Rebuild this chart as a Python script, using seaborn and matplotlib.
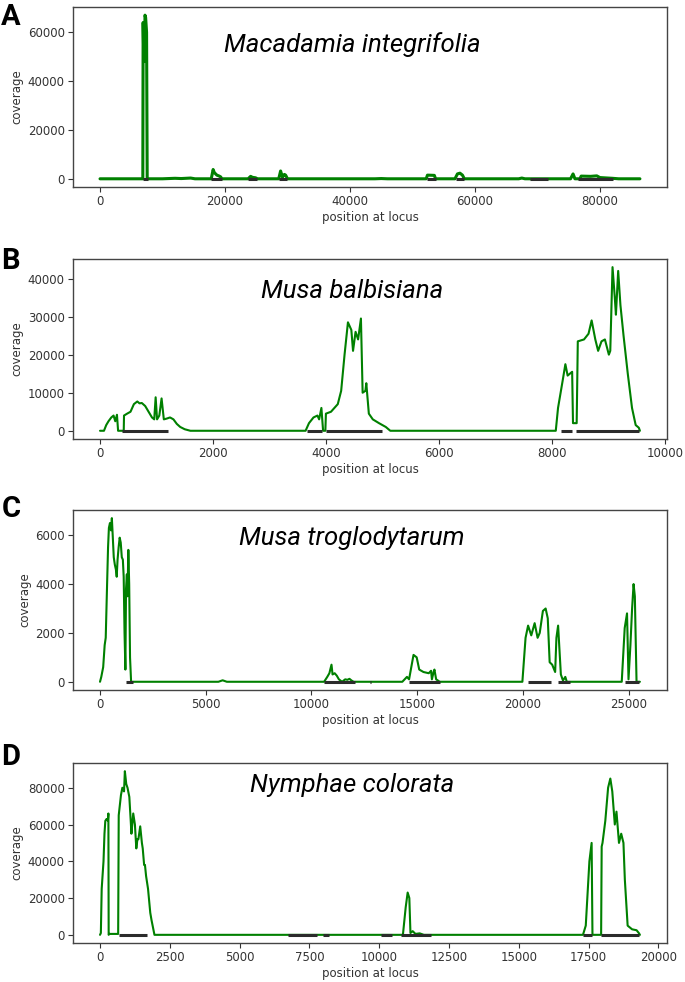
import seaborn as sns
import matplotlib.pyplot as plt
import pandas as pd

# coverage curves (position, coverage)
mac_pos = [0, 6850, 6900, 7000, 7100, 7200, 7300, 7450, 7550, 10000, 12000, 13000, 14500, 15200,
           17800, 18100, 18300, 18700, 19000, 19300, 19500, 23700, 24100, 24400, 24900, 25200,
           28600, 28900, 29200, 29500, 29700, 30000, 44000, 45000, 46000, 52200, 52400, 53500, 53700,
           56800, 57200, 57600, 58000, 58300, 67000, 67500, 68000, 75300, 75700, 76000, 76800, 77000,
           78500, 79500, 80000, 82000, 83000, 86400]
mac_cov = [0, 0, 64000, 50000, 48000, 67000, 66000, 60000, 0, 0, 200, 100, 300, 0,
           0, 3800, 2500, 1500, 1200, 800, 0, 0, 1000, 600, 400, 0,
           0, 3200, 600, 1800, 1500, 0, 0, 100, 0, 0, 1500, 1400, 0,
           0, 2000, 2300, 1500, 0, 0, 300, 0, 0, 2000, 0, 0, 1100,
           1000, 1200, 500, 200, 0, 0]

bal_pos = [0, 70, 110, 150, 200, 240, 270, 300, 320, 420, 425, 480, 540, 600, 660, 700, 740, 800,
           860, 920, 960, 985, 1010, 1050, 1090, 1130, 1180, 1240, 1300, 1360, 1420, 1500, 1600,
           3640, 3700, 3780, 3850, 3880, 3920, 3950, 3990, 4000, 4090, 4210, 4270, 4330, 4390, 4450,
           4480, 4525, 4570, 4620, 4650, 4700, 4715, 4760, 4830, 4940, 5060, 5140,
           8070, 8110, 8190, 8240, 8280, 8360, 8375, 8440, 8460, 8570, 8650, 8705, 8770, 8820, 8880,
           8940, 9010, 9035, 9075, 9115, 9135, 9175, 9215, 9270, 9345, 9420, 9485, 9540, 9560]
bal_cov = [0, 0, 1500, 2500, 3500, 4000, 2500, 4200, 0, 0, 4000, 4500, 5000, 7000, 7700, 7200, 7300, 6500,
           5000, 3500, 3000, 8800, 3000, 4000, 8500, 3000, 3200, 3500, 3000, 1800, 1000, 400, 0,
           0, 2000, 3500, 4000, 3000, 6000, 0, 0, 4500, 5000, 7000, 10500, 20000, 28500, 26500,
           21000, 26000, 24000, 29500, 10000, 10500, 12500, 4500, 3000, 2000, 1000, 0,
           0, 6000, 13000, 17500, 14500, 15500, 2000, 2000, 23500, 24000, 25500, 29000, 24000, 21000, 23500,
           24000, 20000, 21000, 43000, 35000, 30500, 42000, 33000, 25000, 15000, 6000, 1500, 800, 0]

tro_pos = [0, 60, 150, 220, 270, 320, 380, 420, 470, 520, 560, 600, 650, 700, 750, 790, 830, 880, 930,
           980, 1030, 1080, 1120, 1160, 1200, 1230, 1270, 1300, 1340, 1380, 1420, 1470,
           5600, 5800, 6000, 10600, 10750, 10850, 10950, 11000, 11100, 11200, 11300, 11450, 11600,
           11700, 11800, 11900, 12000, 14300, 14520, 14620, 14830, 14980, 15100, 15300, 15550, 15660,
           15700, 15780, 15820, 15900, 16070, 19980, 20130, 20250, 20400, 20560, 20700, 20800, 20950,
           21080, 21180, 21270, 21390, 21530, 21590, 21670, 21800, 21900, 22010, 22080,
           24680, 24820, 24930, 25000, 25090, 25170, 25240, 25300, 25380, 25540]
tro_cov = [0, 200, 600, 1500, 1800, 3500, 5500, 6300, 6500, 6200, 6700, 6000, 5100, 4800, 4600, 4300, 5000, 5500, 5900,
           5700, 5100, 5000, 4300, 2000, 500, 3800, 4400, 3500, 5400, 4000, 1000, 0,
           0, 60, 0, 0, 200, 350, 700, 300, 350, 250, 100, 0, 100,
           80, 120, 50, 0, 0, 200, 100, 1100, 1000, 500, 400, 350, 450,
           100, 400, 500, 100, 0, 0, 1800, 2300, 1900, 2400, 1800, 2000, 2900,
           3000, 2600, 800, 700, 400, 1800, 2300, 300, 50, 200, 0,
           0, 2200, 2800, 100, 1500, 3000, 4000, 3500, 0, 0]

nym_pos = [0, 30, 60, 125, 160, 190, 235, 280, 300, 310, 330, 650, 670, 750, 800, 860, 890, 940, 985,
           1050, 1100, 1125, 1190, 1250, 1300, 1340, 1375, 1440, 1500, 1530, 1580, 1610, 1650, 1720,
           1800, 1845, 1950, 10850, 10950, 11020, 11080, 11120, 11200, 11300, 11450, 11600,
           17300, 17400, 17530, 17610, 17640, 17950, 17970, 18000, 18100, 18200, 18280, 18350, 18440,
           18500, 18590, 18670, 18750, 18800, 18900, 19060, 19220, 19300, 19340]
nym_cov = [0, 1000, 25000, 40000, 55000, 62000, 63000, 62000, 66000, 0, 500, 500, 65000, 76000, 80000, 78000, 89000, 82000, 80000,
           75000, 62000, 55000, 66000, 60000, 47000, 52000, 52000, 59000, 50000, 47000, 38000, 38000, 32000, 25000,
           12000, 8000, 0, 0, 15000, 23000, 20000, 1000, 2000, 500, 800, 0,
           0, 5000, 40000, 50000, 0, 0, 48000, 50000, 62000, 80000, 85000, 78000, 60000,
           67000, 50000, 55000, 50000, 30000, 5000, 3000, 2500, 1000, 0]

# annotated regions drawn as dark bars on the baseline
mac_gene_start = [6800, 17800, 23700, 28700, 52300, 56900, 68800, 76500]
mac_gene_end = [7600, 19500, 25200, 30000, 53700, 58300, 71700, 82100]
bal_gene_start = [386, 3668, 4000, 8163, 8433]
bal_gene_end = [1197, 3938, 4996, 8357, 9537]
tro_gene_start = [1240, 10600, 12750, 14630, 20250, 21650, 24850]
tro_gene_end = [1545, 12080, 12830, 16070, 21350, 22250, 25500]
nym_gene_start = [680, 6720, 7970, 10080, 10780, 17310, 17940]
nym_gene_end = [1700, 7780, 8200, 10470, 11840, 17620, 19300]

species = ["Macadamia integrifolia", "Musa balbisiana", "Musa troglodytarum", "Nymphae colorata"]
letters = ["A", "B", "C", "D"]
x_ticks = [list(range(0, 80001, 20000)), list(range(0, 10001, 2000)),
           list(range(0, 25001, 5000)), list(range(0, 20001, 2500))]
y_ticks = [list(range(0, 60001, 20000)), list(range(0, 40001, 10000)),
           list(range(0, 6001, 2000)), list(range(0, 80001, 20000))]

panels = [(mac_pos, mac_cov, mac_gene_start, mac_gene_end),
          (bal_pos, bal_cov, bal_gene_start, bal_gene_end),
          (tro_pos, tro_cov, tro_gene_start, tro_gene_end),
          (nym_pos, nym_cov, nym_gene_start, nym_gene_end)]

sns.set_style("ticks")
plt.rcParams['font.family'] = ['DejaVu Sans']
plt.rcParams['axes.edgecolor'] = '#444444'
plt.rcParams['axes.linewidth'] = 1.0

fig = plt.figure(figsize=(6.85, 9.82), dpi=100)
bottoms = [0.8096, 0.5530, 0.2974, 0.0397]
title_y = [0.794, 0.823, 0.845, 0.878]
letter_y = [0.997, 0.7485, 0.496, 0.2434]
line_w = [2.2, 1.5, 1.5, 1.5]

for i, (pos, cov, gs, ge) in enumerate(panels):
    ax = fig.add_axes([0.1066, bottoms[i], 0.867, 0.1833])
    df = pd.DataFrame({"position": pos, "coverage": cov})
    sns.lineplot(x="position", y="coverage", data=df, ax=ax, color="green",
                 lw=line_w[i], estimator=None, sort=False)
    ax.hlines([0] * len(gs), gs, ge, color="#2b2b2b", lw=2.2, zorder=3)
    ax.set_xticks(x_ticks[i])
    ax.set_yticks(y_ticks[i])
    ax.tick_params(labelsize=8.5, colors="#333333", length=3.5, width=0.8, pad=2.5)
    ax.set_xlabel("position at locus", fontsize=8.5, color="#333333", labelpad=2)
    ax.set_ylabel("coverage", fontsize=8.5, color="#333333", labelpad=3)
    ax.text(0.47, title_y[i], species[i], transform=ax.transAxes, ha="center", va="center",
            fontsize=18.5, style="italic", family="Roboto", color="black")
    fig.text(0.002, letter_y[i], letters[i], ha="left", va="top", fontsize=21,
             weight="bold", family="Roboto", color="black")

plt.savefig("out.png", dpi=100)
